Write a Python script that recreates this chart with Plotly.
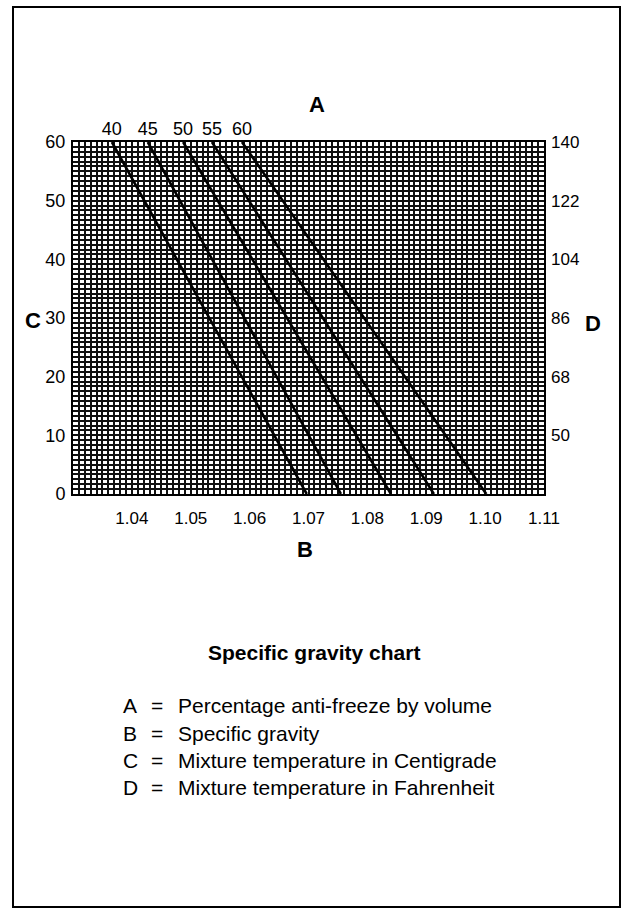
import plotly.graph_objects as go

# ---- data ----
pct_labels = ["40", "45", "50", "55", "60"]          # A: percentage anti-freeze
sg_at_60c = [1.0366, 1.0427, 1.0487, 1.0536, 1.0587]  # B at top (60 C)
sg_at_0c = [1.0697, 1.0755, 1.0840, 1.0913, 1.1002]   # B at bottom (0 C)
temp_c = [0, 60]
x_ticks = [1.04, 1.05, 1.06, 1.07, 1.08, 1.09, 1.10, 1.11]
x_ticktext = ["1.04", "1.05", "1.06", "1.07", "1.08", "1.09", "1.10", "1.11"]
c_ticks = [0, 10, 20, 30, 40, 50, 60]
f_ticks = [50, 68, 86, 104, 122, 140]
legend_letters = ["A", "B", "C", "D"]
legend_texts = ["Percentage anti-freeze by volume", "Specific gravity",
                "Mixture temperature in Centigrade", "Mixture temperature in Fahrenheit"]

W, H = 623, 910
L, R, T, B = 73, 544, 142, 494
pw, ph = R - L, B - T

def px(xp):
    return (xp - L) / pw

def py(yp):
    return (B - yp) / ph

FONT = "Liberation Sans, Arial, sans-serif"

fig = go.Figure()
for i, p in enumerate(pct_labels):
    fig.add_trace(go.Scatter(x=[sg_at_0c[i], sg_at_60c[i]], y=temp_c, mode="lines",
                             line=dict(color="black", width=2.6), name=p + "%",
                             showlegend=False, hoverinfo="skip"))
# invisible helper trace for the secondary axes (top % labels, right F scale)
fig.add_trace(go.Scatter(x=[1.03, 1.11], y=[32, 140], xaxis="x2", yaxis="y2",
                         mode="lines", line=dict(width=0), opacity=0,
                         showlegend=False, hoverinfo="skip"))

gridc = "#111111"
fig.update_layout(
    width=W, height=H, margin=dict(l=L, r=W - R, t=T, b=H - B),
    paper_bgcolor="white", plot_bgcolor="white", showlegend=False,
    font=dict(family=FONT, color="black", size=17),
    xaxis=dict(range=[1.03, 1.11], tickmode="array", tickvals=x_ticks, ticktext=x_ticktext,
               showgrid=True, gridcolor=gridc, gridwidth=1.5, zeroline=False,
               showline=True, linecolor="black", linewidth=2, mirror=True,
               ticks="", ticklabelstandoff=8, tickfont=dict(size=17),
               minor=dict(tickmode="linear", tick0=1.03, dtick=0.001, showgrid=True,
                          gridcolor=gridc, gridwidth=1.5)),
    yaxis=dict(range=[0, 60], tickmode="array", tickvals=c_ticks,
               showgrid=True, gridcolor=gridc, gridwidth=1.5, zeroline=False,
               showline=True, linecolor="black", linewidth=2, mirror=True,
               ticks="", ticklabelstandoff=2, tickfont=dict(size=18),
               minor=dict(tickmode="linear", tick0=0, dtick=60 / 72, showgrid=True,
                          gridcolor=gridc, gridwidth=1.5)),
    xaxis2=dict(range=[1.03, 1.11], overlaying="x", side="top", tickmode="array",
                tickvals=sg_at_60c, ticktext=pct_labels, showgrid=False, zeroline=False,
                ticks="", ticklabelstandoff=2, tickfont=dict(size=18)),
    yaxis2=dict(range=[32, 140], overlaying="y", side="right", tickmode="array",
                tickvals=f_ticks, showgrid=False, zeroline=False,
                ticks="", ticklabelstandoff=6, tickfont=dict(size=17)),
)

ann = []
def add_text(x, y, text, size, bold=False, xanchor="center"):
    t = "<b>%s</b>" % text if bold else text
    ann.append(dict(x=x, y=y, xref="paper", yref="paper", text=t, showarrow=False,
                    xanchor=xanchor, yanchor="middle", font=dict(size=size, family=FONT, color="black")))

add_text(px(317), py(105), "A", 22, True)
add_text(px(305), py(549), "B", 22, True)
add_text(px(33), py(320), "C", 22, True)
add_text(px(593), py(323), "D", 22, True)
add_text(px(314), py(652), "Specific gravity chart", 21, True)
leg_y = [705, 733, 760, 787]
for letter, txt, yy in zip(legend_letters, legend_texts, leg_y):
    add_text(px(121), py(yy), letter, 21, False, "left")
    add_text(px(157), py(yy), "=", 21, False, "center")
    add_text(px(176), py(yy), txt, 21, False, "left")
fig.update_layout(annotations=ann)

# outer frame
fig.add_shape(type="rect", xref="paper", yref="paper",
              x0=px(13), x1=px(620), y0=py(907), y1=py(7),
              line=dict(color="black", width=2), fillcolor="rgba(0,0,0,0)", layer="above")

fig.write_html("out.html", config={"displayModeBar": False},
               post_script="document.body.style.margin='0px';document.body.style.overflow='hidden';")
